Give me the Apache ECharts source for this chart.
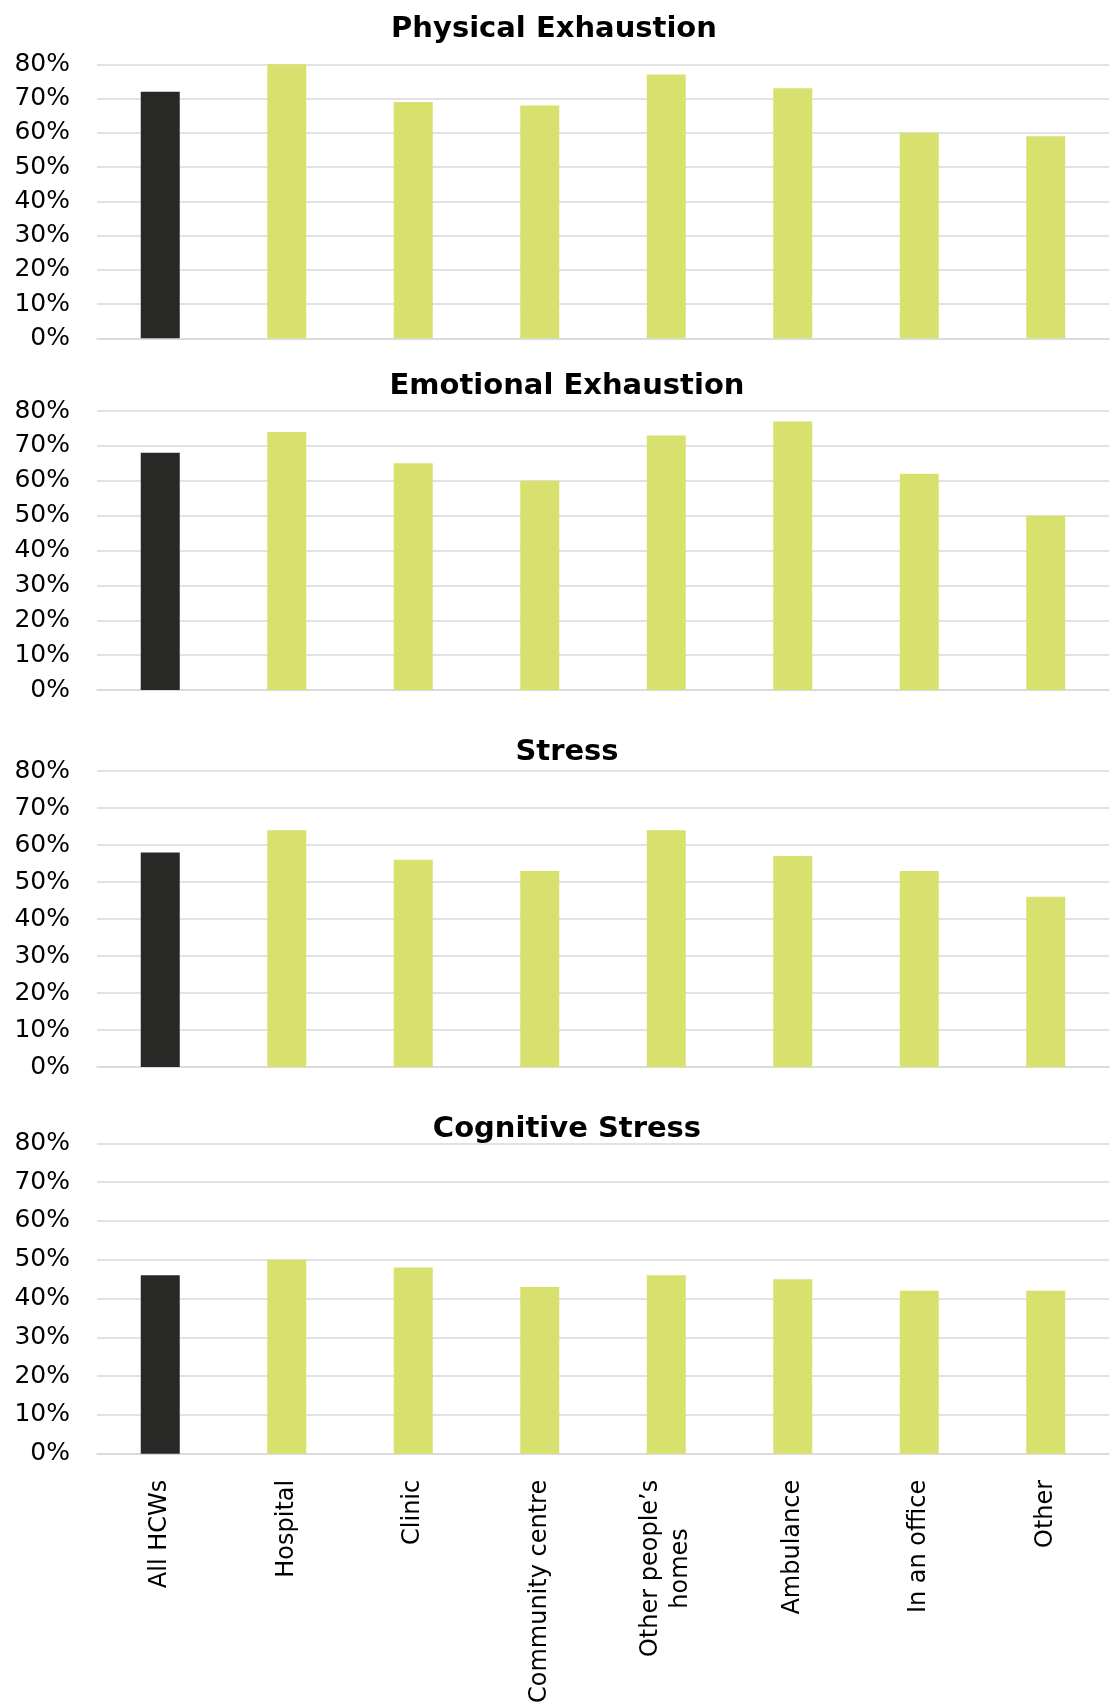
<!DOCTYPE html>
<html>
<head>
<meta charset="utf-8">
<script src="https://cdn.jsdelivr.net/npm/echarts@6/dist/echarts.min.js"></script>
<style>
html,body{margin:0;padding:0;background:#fff;}
#chart{width:1110px;height:1706px;}
</style>
</head>
<body>
<div id="chart"></div>
<script>
const categories = ['All HCWs', 'Hospital', 'Clinic', 'Community centre', 'Other people’s homes', 'Ambulance', 'In an office', 'Other'];
const titles = ['Physical Exhaustion', 'Emotional Exhaustion', 'Stress', 'Cognitive Stress'];
const physical = [72, 80, 69, 68, 77, 73, 60, 59];
const emotional = [68, 74, 65, 60, 73, 77, 62, 50];
const stress = [58, 64, 56, 53, 64, 57, 53, 46];
const cognitive = [46, 50, 48, 43, 46, 45, 42, 42];
const yMin = 0, yMax = 80, yStep = 10;

const seriesValues = [physical, emotional, stress, cognitive];
const FONT = 'DejaVu Sans';
const DARK = '#282826';
const GREEN = '#D8E16E';
const GRIDC = '#d9d9d9';

const grids = [
  {top: 64.3, height: 274},
  {top: 411, height: 279},
  {top: 771, height: 296},
  {top: 1143.3, height: 312.7}
];
const titleTops = [10, 367, 733, 1110];
const titleCenters = [549, 562, 562, 562];

const chart = echarts.init(document.getElementById('chart'), null, {renderer: 'canvas'});

const option = {
  backgroundColor: '#fff',
  animation: false,
  title: titles.map((t, i) => ({
    text: t, left: titleCenters[i], top: titleTops[i], textAlign: 'center',
    textStyle: {fontFamily: FONT, fontWeight: 'bold', fontSize: 29, color: '#000'}
  })),
  grid: grids.map(g => ({left: 97, right: 1, top: g.top, height: g.height, containLabel: false})),
  xAxis: grids.map((g, i) => ({
    type: 'category', gridIndex: i, data: categories,
    axisTick: {show: false},
    axisLine: {show: true, lineStyle: {color: GRIDC, width: 1.5}},
    axisLabel: {
      show: i === 3, rotate: 90, margin: 26, interval: 0,
      fontFamily: FONT, fontSize: 24, color: '#000',
      formatter: v => v.replace('people’s ', 'people’s\n').split('\n').map(s => '{c|' + s + '}').join('\n'),
      rich: {c: {fontFamily: FONT, fontSize: 24, color: '#000', align: 'center', lineHeight: 30}}
    }
  })),
  yAxis: grids.map((g, i) => ({
    type: 'value', gridIndex: i, min: yMin, max: yMax, interval: yStep,
    axisLine: {show: false}, axisTick: {show: false},
    splitLine: {lineStyle: {color: GRIDC, width: 1.5}},
    axisLabel: {margin: 27, fontFamily: FONT, fontSize: 25, color: '#000', formatter: '{value}%'}
  })),
  series: seriesValues.map((vals, i) => ({
    type: 'bar', xAxisIndex: i, yAxisIndex: i, data: vals, barWidth: 39,
    itemStyle: {color: p => p.dataIndex === 0 ? DARK : GREEN}
  }))
};
chart.setOption(option);
</script>
</body>
</html>
